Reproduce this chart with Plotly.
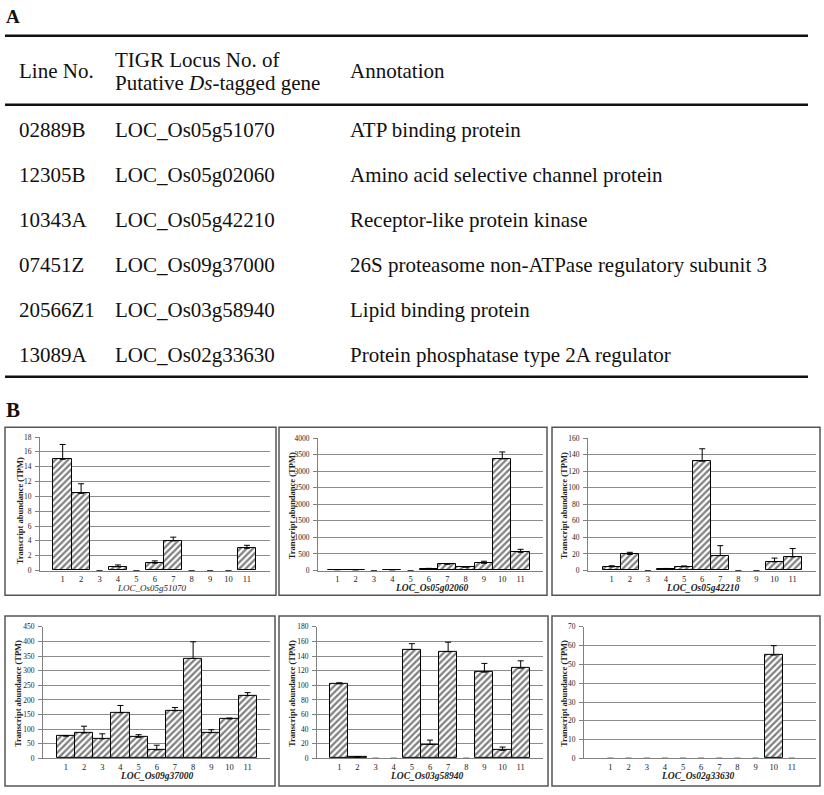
import plotly.graph_objects as go

W, H = 824, 795

# ---------------- data ----------------
categories = list(range(1, 12))
tick_labels = [str(c) for c in categories]

genes = ["LOC_Os05g51070", "LOC_Os05g02060", "LOC_Os05g42210",
         "LOC_Os09g37000", "LOC_Os03g58940", "LOC_Os02g33630"]

vals_51070 = [15.0, 10.4, 0, 0.5, 0, 1.0, 4.0, 0, 0, 0, 3.0]
err_51070 = [2.0, 1.3, 0, 0.25, 0, 0.3, 0.5, 0, 0, 0, 0.4]

vals_02060 = [20, 15, 0, 15, 0, 50, 190, 100, 220, 3370, 550]
err_02060 = [5, 3, 0, 3, 0, 15, 15, 12, 60, 210, 90]

vals_42210 = [4.5, 19.5, 0, 2, 4.5, 132, 18, 0, 0, 10.5, 16.5]
err_42210 = [1.2, 2.5, 0, 0.5, 1, 15, 12, 0, 0, 4.5, 10]

vals_37000 = [76, 87, 67, 156, 72, 29, 163, 342, 88, 135, 215]
err_37000 = [2, 23, 17, 25, 9, 16, 11, 57, 10, 3, 10]

vals_58940 = [102, 1.5, 0, 0, 149, 19, 146, 0, 118, 11, 123.5]
err_58940 = [1.5, 1, 0, 0, 8, 6, 13, 0, 12, 4.5, 10]

vals_33630 = [0, 0, 0, 0, 0, 0, 0, 0, 0, 55, 0]
err_33630 = [0, 0, 0, 0, 0, 0, 0, 0, 0, 5, 0]

y_max = [18, 4000, 160, 450, 180, 70]
y_step = [2, 500, 20, 50, 20, 10]

table_header = ["Line No.", "TIGR Locus No. of", "Putative <i>Ds</i>-tagged gene", "Annotation"]
line_nos = ["02889B", "12305B", "10343A", "07451Z", "20566Z1", "13089A"]
annotations_txt = ["ATP binding protein",
                   "Amino acid selective channel protein",
                   "Receptor-like protein kinase",
                   "26S proteasome non-ATPase regulatory subunit 3",
                   "Lipid binding protein",
                   "Protein phosphatase type 2A regulator"]

series = [(vals_51070, err_51070), (vals_02060, err_02060), (vals_42210, err_42210),
          (vals_37000, err_37000), (vals_58940, err_58940), (vals_33630, err_33630)]

# ---------------- layout helpers ----------------
def px(x):
    return x / W

def py(y):
    return 1 - y / H

# plot areas (pixel): left, right, top, bottom
areas = [(40, 270, 438, 573), (318, 543, 439, 573), (588, 816, 439, 573),
         (43, 270, 630, 763), (317, 543, 630, 763), (584, 816, 630, 763)]
xranges = [(-0.23, 12.25), (-0.05, 12.22), (-0.31, 12.29),
           (-0.26, 12.23), (-0.23, 12.23), (-0.46, 12.33)]
boxes = [(5, 276, 428, 598), (279, 547, 428, 598), (552, 820, 428, 598),
         (5, 275, 619, 791), (279, 548, 619, 791), (552, 820, 619, 791)]
ytitle_pos = [(20, 513), (292, 508), (564, 508), (18, 698), (292, 698), (564, 698)]
xtitle_pos = [(152, 591), (432, 591), (703, 591), (157, 781), (427, 781), (698, 781)]

SERIF = "Liberation Serif"
fig = go.Figure()
layout = dict(width=W, height=H, margin=dict(l=0, r=0, t=0, b=0),
              paper_bgcolor="white", plot_bgcolor="white", showlegend=False,
              bargap=0, font=dict(family=SERIF, color="#222"))
shapes = []
anns = []

for i, ((vals, errs), area, xr) in enumerate(zip(series, areas, xranges)):
    k = "" if i == 0 else str(i + 1)
    fig.add_trace(go.Bar(
        x=categories, y=vals, xaxis="x" + k, yaxis="y" + k, width=1.0,
        marker=dict(color="white",
                    line=dict(color="black", width=[1 if v > 0 else 0 for v in vals]),
                    pattern=dict(shape="/", fgcolor="black", bgcolor="white",
                                 size=4.5, solidity=0.5)),
        error_y=dict(type="data", symmetric=False, array=errs,
                     arrayminus=[0] * len(errs), color="black",
                     thickness=1, width=3),
    ))
    l, r, t, b = area
    layout["xaxis" + k] = dict(domain=[px(l), px(r)], anchor="y" + k, range=list(xr),
                               tickmode="array", tickvals=categories, ticktext=tick_labels,
                               ticks="", showgrid=False, zeroline=False,
                               showline=True, linecolor="#808080", linewidth=1,
                               tickfont=dict(size=8.5, family=SERIF, color="#222"),
                               ticklabelstandoff=0, fixedrange=True)
    layout["yaxis" + k] = dict(domain=[py(b), py(t)], anchor="x" + k,
                               range=[0, y_max[i]], dtick=y_step[i], tick0=0,
                               ticks="outside", ticklen=4, tickcolor="#808080",
                               showgrid=True, gridcolor="#8c8c8c", gridwidth=1,
                               zeroline=False, showline=True, linecolor="#808080",
                               linewidth=1, tickfont=dict(size=7.5, family=SERIF, color="#222"),
                               ticklabelstandoff=2, fixedrange=True)
    bl, br, bt, bb = boxes[i]
    shapes.append(dict(type="rect", xref="paper", yref="paper",
                       x0=px(bl), x1=px(br), y0=py(bb), y1=py(bt),
                       line=dict(color="#555555", width=1.5), fillcolor="rgba(0,0,0,0)"))
    tx, ty = ytitle_pos[i]
    anns.append(dict(text="<b>Transcript abundance (TPM)</b>", xref="paper", yref="paper",
                     x=px(tx), y=py(ty), xanchor="center", yanchor="middle",
                     textangle=-90, showarrow=False,
                     font=dict(size=8.5, family=SERIF, color="#222")))
    gx, gy = xtitle_pos[i]
    gtxt = "<i>%s</i>" % genes[i] if i == 0 else "<b><i>%s</i></b>" % genes[i]
    anns.append(dict(text=gtxt, xref="paper", yref="paper", x=px(gx), y=py(gy),
                     xanchor="center", yanchor="middle", showarrow=False,
                     font=dict(size=9 if i == 0 else 9.5, family=SERIF, color="#222")))

# ---------------- table (part A) ----------------
TF = dict(size=21, family=SERIF, color="#111")
anns.append(dict(text="<b>A</b>", xref="paper", yref="paper", x=px(4), y=py(13),
                 xanchor="left", yanchor="middle", showarrow=False,
                 font=dict(size=19, family=SERIF, color="#111")))
anns.append(dict(text="<b>B</b>", xref="paper", yref="paper", x=px(4), y=py(411),
                 xanchor="left", yanchor="middle", showarrow=False,
                 font=dict(size=21, family=SERIF, color="#111")))
for yy in (32, 102, 377):
    shapes.append(dict(type="line", xref="paper", yref="paper", x0=px(5), x1=px(808),
                       y0=py(yy), y1=py(yy), line=dict(color="#111", width=2.5)))

hdr_pos = [(17, 68), (113, 57), (113, 80), (348, 68)]
for txt, (hx, hy) in zip(table_header, hdr_pos):
    anns.append(dict(text=txt, xref="paper", yref="paper", x=px(hx), y=py(hy),
                     xanchor="left", yanchor="middle", showarrow=False, font=TF))

row_y = [127, 173, 218, 264, 309, 355]
for ln, gene, an, ry in zip(line_nos, genes, annotations_txt, row_y):
    for txt, cx in ((ln, 17), (gene, 113), (an, 348)):
        anns.append(dict(text=txt, xref="paper", yref="paper", x=px(cx), y=py(ry),
                         xanchor="left", yanchor="middle", showarrow=False, font=TF))

layout["shapes"] = shapes
layout["annotations"] = anns
fig.update_layout(**layout)
fig.write_html("out.html", config={"displayModeBar": False},
               post_script="document.body.style.margin='0px';document.body.style.overflow='hidden';")
